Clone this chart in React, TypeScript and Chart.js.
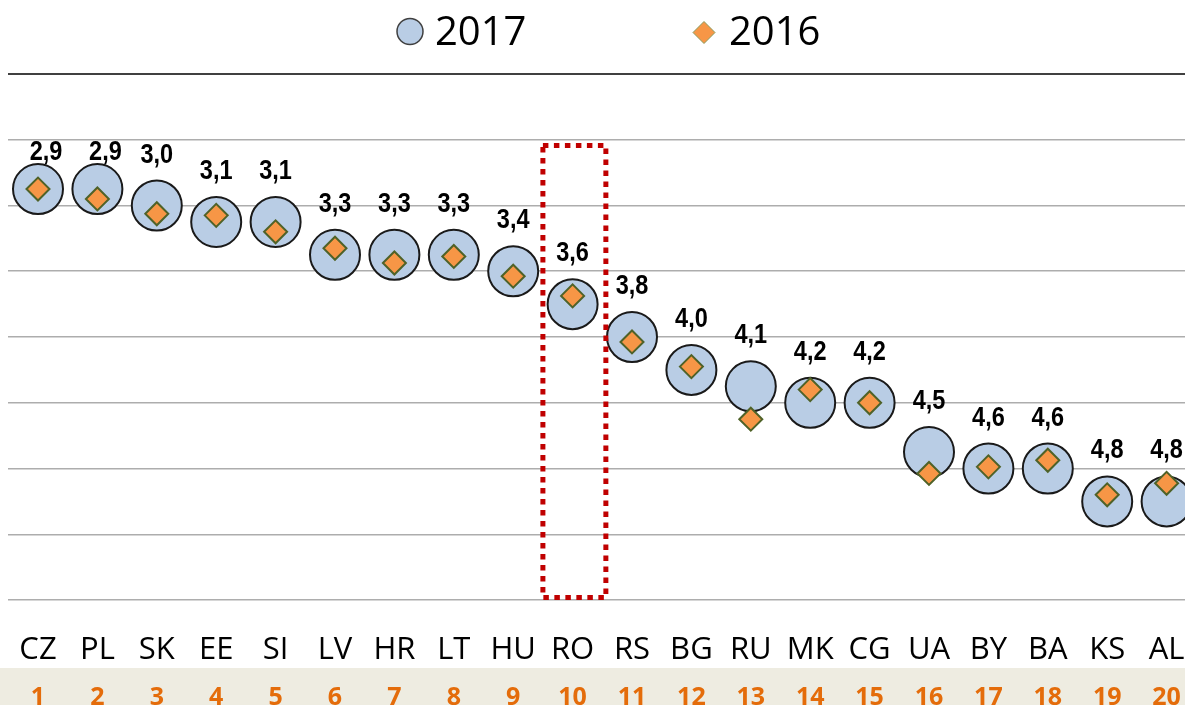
import React, { useEffect, useRef } from "react";
import { Chart, registerables } from "chart.js";

Chart.register(...registerables);

const categories = ["CZ", "PL", "SK", "EE", "SI", "LV", "HR", "LT", "HU", "RO", "RS", "BG", "RU", "MK", "CG", "UA", "BY", "BA", "KS", "AL"];
const values2017 = [2.9, 2.9, 3.0, 3.1, 3.1, 3.3, 3.3, 3.3, 3.4, 3.6, 3.8, 4.0, 4.1, 4.2, 4.2, 4.5, 4.6, 4.6, 4.8, 4.8];
const values2016 = [2.9, 2.96, 3.05, 3.06, 3.16, 3.26, 3.35, 3.31, 3.43, 3.55, 3.83, 3.98, 4.3, 4.12, 4.2, 4.63, 4.59, 4.55, 4.76, 4.69];
const rankLabels = ["1", "2", "3", "4", "5", "6", "7", "8", "9", "10", "11", "12", "13", "14", "15", "16", "17", "18", "19", "20"];
const seriesNames = ["2017", "2016"];
const yMin = 2.2;
const yMax = 5.4;
const yStep = 0.4;
const highlightIndex = 9;

const SANS = '"Open Sans", "Liberation Sans", sans-serif';
const ARIAL = '"Liberation Sans", Arial, sans-serif';

const fmt = (v: number) => v.toFixed(1).replace(".", ",");

const decorPlugin = {
  id: "decor",
  beforeDraw(chart: any) {
    const ctx = chart.ctx;
    const x = chart.scales.x;
    ctx.save();
    // beige band with ranks
    ctx.fillStyle = "#EEECE1";
    ctx.fillRect(0, 668, chart.width, chart.height - 668);
    ctx.fillStyle = "#E46C0A";
    ctx.font = `bold 25px ${SANS}`;
    ctx.textAlign = "center";
    ctx.textBaseline = "alphabetic";
    rankLabels.forEach((r, i) => {
      ctx.fillText(r, x.getPixelForValue(i), 705);
    });
    // category labels
    ctx.fillStyle = "#000";
    ctx.font = `31px ${SANS}`;
    categories.forEach((c, i) => {
      ctx.fillText(c, x.getPixelForValue(i), 659);
    });
    ctx.restore();
  },
  afterDraw(chart: any) {
    const ctx = chart.ctx;
    const x = chart.scales.x;
    const y = chart.scales.y;
    const area = chart.chartArea;
    ctx.save();
    // data labels for 2017 (narrow bold)
    const meta = chart.getDatasetMeta(0);
    ctx.fillStyle = "#000";
    ctx.font = `bold 28px ${ARIAL}`;
    ctx.textAlign = "center";
    ctx.textBaseline = "alphabetic";
    const sx = 0.84;
    meta.data.forEach((pt: any, i: number) => {
      let lx = pt.x;
      let ly = pt.y - 43;
      if (ly - 19 < area.top + 68) {
        ly = pt.y - 29;
        lx = pt.x + 8;
      }
      ctx.save();
      ctx.translate(lx, ly);
      ctx.scale(sx, 1);
      ctx.fillText(fmt(values2017[i]), 0, 0);
      ctx.restore();
    });
    // highlight box
    const cx = x.getPixelForValue(highlightIndex);
    const cw = x.getPixelForValue(1) - x.getPixelForValue(0);
    const left = cx - cw * 0.5;
    const right = cx + cw * 0.56;
    const top = y.getPixelForValue(2.635);
    const bottom = y.getPixelForValue(5.385);
    ctx.strokeStyle = "#C00000";
    ctx.lineWidth = 5;
    ctx.setLineDash([5.5, 5.5]);
    ctx.strokeRect(left, top, right - left, bottom - top);
    ctx.setLineDash([]);
    // legend
    ctx.font = `40px ${SANS}`;
    ctx.textAlign = "left";
    ctx.beginPath();
    ctx.arc(410, 31.5, 13, 0, Math.PI * 2);
    ctx.fillStyle = "#B9CDE5";
    ctx.fill();
    ctx.lineWidth = 1.5;
    ctx.strokeStyle = "#404040";
    ctx.stroke();
    ctx.fillStyle = "#000";
    ctx.fillText(seriesNames[0], 435, 45);
    ctx.beginPath();
    ctx.moveTo(704, 21.5);
    ctx.lineTo(715, 32.5);
    ctx.lineTo(704, 43.5);
    ctx.lineTo(693, 32.5);
    ctx.closePath();
    ctx.fillStyle = "#F79646";
    ctx.fill();
    ctx.lineWidth = 1;
    ctx.strokeStyle = "#8A9A5B";
    ctx.stroke();
    ctx.fillStyle = "#000";
    ctx.fillText(seriesNames[1], 729, 45);
    ctx.restore();
  },
};

export default function App() {
  const ref = useRef<HTMLCanvasElement | null>(null);
  useEffect(() => {
    if (!ref.current) return;
    const chart = new Chart(ref.current, {
      type: "line",
      data: {
        labels: categories,
        datasets: [
          {
            label: seriesNames[0],
            data: values2017,
            showLine: false,
            pointStyle: "circle",
            pointRadius: 25,
            pointHoverRadius: 25,
            pointBackgroundColor: "#B9CDE5",
            pointBorderColor: "#1A1A1A",
            pointBorderWidth: 2,
            order: 2,
          },
          {
            label: seriesNames[1],
            data: values2016,
            showLine: false,
            pointStyle: "rectRot",
            pointRadius: 11.5,
            pointHoverRadius: 11.5,
            pointBackgroundColor: "#F79646",
            pointBorderColor: "#4F6228",
            pointBorderWidth: 2,
            order: 1,
          },
        ],
      },
      options: {
        responsive: false,
        animation: false,
        events: [],
        layout: { autoPadding: false, padding: { top: 74, left: 8.3, right: 3.7, bottom: 105 } },
        plugins: { legend: { display: false }, tooltip: { enabled: false }, title: { display: false } },
        scales: {
          x: {
            type: "category",
            offset: true,
            grid: { display: false, drawTicks: false },
            border: { display: false },
            ticks: { display: false },
          },
          y: {
            type: "linear",
            reverse: true,
            min: yMin,
            max: yMax,
            border: { display: false },
            ticks: { display: false, stepSize: yStep },
            grid: {
              drawTicks: false,
              color: (c: any) => (Math.abs(c.tick.value - yMin) < 1e-6 ? "#404040" : "#ADADAD"),
              lineWidth: (c: any) => (Math.abs(c.tick.value - yMin) < 1e-6 ? 2 : 1.5),
            },
          },
        },
      },
      plugins: [decorPlugin],
    });
    return () => chart.destroy();
  }, []);
  return (
    <div style={{ position: "fixed", left: 0, top: 0, width: 1185, height: 705, overflow: "hidden", background: "#fff" }}>
      <canvas ref={ref} width={1200} height={705} style={{ display: "block" }} />
    </div>
  );
}
